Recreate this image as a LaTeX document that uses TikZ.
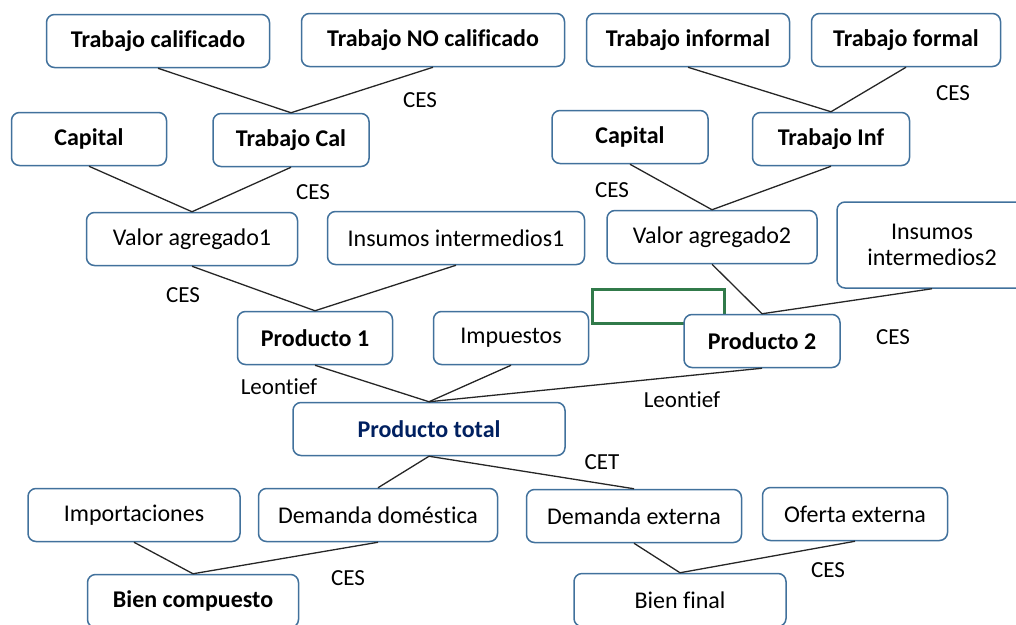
\documentclass[tikz,border=0pt]{standalone}
\usepackage{fontspec}
\setmainfont{Carlito}[Ligatures=CommonOff]
\usepackage{tikz}
\usetikzlibrary{positioning}
\definecolor{borde}{RGB}{65,113,156}
\definecolor{azul}{RGB}{0,32,96}
\definecolor{verde}{RGB}{49,122,74}
\begin{document}
\begin{tikzpicture}[x=1pt, y=-1pt,        nor/.style={rectangle, rounded corners=8pt, draw=borde, fill=white, line width=1.5pt, minimum height=53pt, inner sep=0pt, align=center, font=\fontsize{24}{26}\selectfont},        neg/.style={nor, font=\fontsize{24}{26}\selectfont\bfseries},        tot/.style={neg, text=azul},        fun/.style={inner sep=0pt, font=\fontsize{23}{26}\selectfont},        lin/.style={line width=1.3pt, black!85}    ]
        \useasboundingbox (0,0) rectangle (1016,624);
        \draw [verde, line width=3pt] (592,289) rectangle (724,323);

        \node (tcal) [neg, minimum width=223pt] at (158,41) {Trabajo calificado};
        \node (tnocal) [neg, minimum width=263pt] at (433,40) {Trabajo NO calificado};
        \node (tinf) [neg, minimum width=203pt] at (688,40) {Trabajo informal};
        \node (tfor) [neg, minimum width=189pt] at (906,40) {Trabajo formal};
        \node (cap1) [neg, minimum width=155pt] at (89,139) {Capital};
        \node (tcal2) [neg, minimum width=156pt] at (291,140) {Trabajo Cal};
        \node (cap2) [neg, minimum width=156pt] at (630,137) {Capital};
        \node (tinf2) [neg, minimum width=157pt] at (831,139) {Trabajo Inf};
        \node (va1) [nor, minimum width=211pt] at (192,239) {Valor agregado1};
        \node (ii1) [nor, minimum width=257pt] at (456,238) {Insumos intermedios1};
        \node (va2) [nor, minimum width=210pt] at (712,237) {Valor agregado2};
        \node (ii2) [nor, minimum width=190pt, minimum height=86pt] at (932,245) {Insumos\\intermedios2};
        \node (p1) [neg, minimum width=155pt] at (315,338) {Producto 1};
        \node (imp) [nor, minimum width=155pt] at (511,338) {Impuestos};
        \node (p2) [neg, minimum width=156pt] at (762,341) {Producto 2};
        \node (ptot) [tot, minimum width=272pt] at (429,429) {Producto total};
        \node (impo) [nor, minimum width=212pt] at (134,515) {Importaciones};
        \node (dd) [nor, minimum width=239pt] at (378,515) {Demanda doméstica};
        \node (de) [nor, minimum width=215pt] at (634,516) {Demanda externa};
        \node (oe) [nor, minimum width=185pt] at (855,514) {Oferta externa};
        \node (bc) [neg, minimum width=211pt] at (193,601) {Bien compuesto};
        \node (bf) [nor, minimum width=212pt] at (680,600) {Bien final};

        \node (ces1) [fun] at (420,100) {CES};
        \node (ces2) [fun] at (953,93) {CES};
        \node (ces3) [fun] at (313,192) {CES};
        \node (ces4) [fun] at (612,190) {CES};
        \node (ces5) [fun] at (183,295) {CES};
        \node (ces6) [fun] at (893,337) {CES};
        \node (leo1) [fun] at (279,387) {Leontief};
        \node (leo2) [fun] at (682,400) {Leontief};
        \node (cet) [fun] at (602,462) {CET};
        \node (ces7) [fun] at (348,578) {CES};
        \node (ces8) [fun] at (828,570) {CES};

        \draw [lin] (tcal.south) -- (tcal2.north);
        \draw [lin] (tnocal.south) -- (tcal2.north);
        \draw [lin] (tinf.south) -- (tinf2.north);
        \draw [lin] (tfor.south) -- (tinf2.north);
        \draw [lin] (cap1.south) -- (va1.north);
        \draw [lin] (tcal2.south) -- (va1.north);
        \draw [lin] (cap2.south) -- (va2.north);
        \draw [lin] (tinf2.south) -- (va2.north);
        \draw [lin] (va1.south) -- (p1.north);
        \draw [lin] (ii1.south) -- (p1.north);
        \draw [lin] (va2.south) -- (p2.north);
        \draw [lin] (ii2.south) -- (p2.north);
        \draw [lin] (p1.south) -- (ptot.north);
        \draw [lin] (imp.south) -- (ptot.north);
        \draw [lin] (p2.south) -- (ptot.north);
        \draw [lin] (ptot.south) -- (dd.north);
        \draw [lin] (ptot.south) -- (de.north);
        \draw [lin] (impo.south) -- (bc.north);
        \draw [lin] (dd.south) -- (bc.north);
        \draw [lin] (de.south) -- (bf.north);
        \draw [lin] (oe.south) -- (bf.north);
    \end{tikzpicture}
\end{document}
